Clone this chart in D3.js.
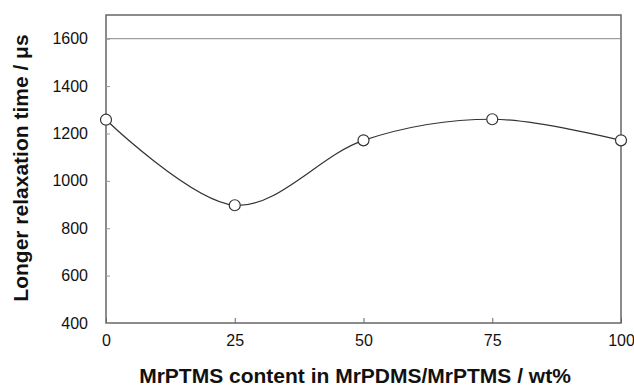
<!DOCTYPE html>
<html>
<head>
<meta charset="utf-8">
<script src="https://cdn.jsdelivr.net/npm/d3@7"></script>
<style>
  body { margin: 0; background: #fff; }
  text { font-family: "Liberation Sans", Arial, sans-serif; fill: #111; }
</style>
</head>
<body>
<svg width="634" height="388"></svg>
<script>
var content = [0, 25, 50, 75, 100];
var relaxTime = [1258, 897, 1171, 1260, 1171];
var xTicks = [0, 25, 50, 75, 100];
var yTicks = [400, 600, 800, 1000, 1200, 1400, 1600];

var svg = d3.select("svg"),
    mLeft = 106, mTop = 15, mRight = 621, mBottom = 323;

var x = d3.scaleLinear().domain([0, 100]).range([mLeft, mRight]),
    y = d3.scaleLinear().domain([400, 1700]).range([mBottom, mTop]);

var data = content.map(function(c, i) { return {x: c, y: relaxTime[i]}; });

// frame
svg.append("rect")
    .attr("x", mLeft).attr("y", mTop)
    .attr("width", mRight - mLeft).attr("height", mBottom - mTop)
    .attr("fill", "none").attr("stroke", "#666").attr("stroke-width", 1.5);

// line at 1600
svg.append("line")
    .attr("x1", mLeft).attr("x2", mRight)
    .attr("y1", y(1600)).attr("y2", y(1600))
    .attr("stroke", "#888").attr("stroke-width", 1);

// y axis
var yAxis = d3.axisLeft(y).tickValues(yTicks).tickFormat(d3.format("d"))
    .tickSizeInner(-4).tickSizeOuter(0).tickPadding(18);
var gy = svg.append("g").attr("transform", "translate(" + mLeft + ",0)").call(yAxis);
gy.select(".domain").remove();
gy.selectAll("line").attr("stroke", "#999");
gy.selectAll("text").style("font-size", "16px");

// x axis
var xAxis = d3.axisBottom(x).tickValues(xTicks).tickFormat(d3.format("d"))
    .tickSizeInner(-5).tickSizeOuter(0).tickPadding(12);
var gx = svg.append("g").attr("transform", "translate(0," + mBottom + ")").call(xAxis);
gx.select(".domain").remove();
gx.selectAll("line").attr("stroke", "#666");
gx.selectAll("text").style("font-size", "16px");

// curve
var line = d3.line()
    .x(function(d) { return x(d.x); })
    .y(function(d) { return y(d.y); })
    .curve(d3.curveCardinal.tension(0));

svg.append("path")
    .datum(data)
    .attr("d", line)
    .attr("fill", "none").attr("stroke", "#333").attr("stroke-width", 1.2);

svg.selectAll("circle.pt")
    .data(data)
    .enter().append("circle")
    .attr("class", "pt")
    .attr("cx", function(d) { return x(d.x); })
    .attr("cy", function(d) { return y(d.y); })
    .attr("r", 5.5)
    .attr("fill", "#fff").attr("stroke", "#333").attr("stroke-width", 1.2);

// titles
svg.append("text")
    .attr("x", 355).attr("y", 383)
    .attr("text-anchor", "middle")
    .style("font-size", "21px").style("font-weight", "bold")
    .text("MrPTMS content in MrPDMS/MrPTMS / wt%");

svg.append("text")
    .attr("transform", "translate(28," + 168 + ") rotate(-90)")
    .attr("text-anchor", "middle")
    .style("font-size", "21px").style("font-weight", "bold")
    .text("Longer relaxation time / μs");
</script>
</body>
</html>
